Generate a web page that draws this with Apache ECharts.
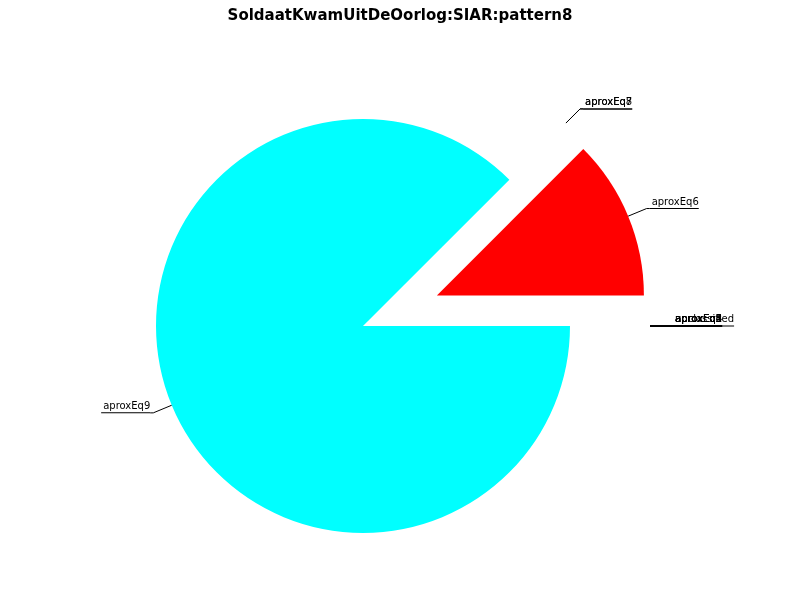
<!DOCTYPE html>
<html>
  <head>
    <meta charset="utf-8" />
    <script src="https://cdn.jsdelivr.net/npm/echarts@6/dist/echarts.min.js"></script>
  </head>
  <body style="margin:0">
    <div id="main" style="width: 800px; height: 600px"></div>

    <script type="text/javascript">
      // slice names, counterclockwise from 3 o'clock
      var names = ["aproxEq1", "aproxEq2", "aproxEq3", "aproxEq4", "aproxEq5", "unclassified",
                   "aproxEq6", "aproxEq7", "aproxEq8", "aproxEq9"];
      var values = [0, 0, 0, 0, 0, 0, 1, 0, 0, 7];
      var exploded = ["aproxEq1", "aproxEq2", "aproxEq3", "aproxEq4", "aproxEq5", "unclassified",
                      "aproxEq6", "aproxEq7", "aproxEq8"];
      var colors = ["#0000ff", "#0000ff", "#0000ff", "#0000ff", "#0000ff", "#0000ff",
                    "#ff0000", "#ff00ff", "#00ff00", "#00ffff"];

      var myChart = echarts.init(document.getElementById("main"));

      var data = names.map(function (n, i) {
        return {
          name: n,
          value: values[i],
          selected: exploded.indexOf(n) >= 0,
          itemStyle: { color: colors[i] }
        };
      });

      var option = {
        animation: false,
        backgroundColor: "#fff",
        title: {
          text: "SoldaatKwamUitDeOorlog:SIAR:pattern8",
          left: "center",
          top: 4,
          textStyle: { fontFamily: "DejaVu Sans", fontSize: 15, fontWeight: "bold", color: "#000" }
        },
        series: [
          {
            type: "pie",
            center: [363, 326],
            radius: 207,
            startAngle: 0,
            clockwise: false,
            selectedMode: "multiple",
            selectedOffset: 80,
            avoidLabelOverlap: false,
            emphasis: { disabled: true },
            itemStyle: { borderWidth: 0 },
            labelLayout: { hideOverlap: false },
            label: {
              show: true,
              distanceToLabelLine: 0,
              // text, then an underline, then a spacer so the underline sits where the leader line ends
              formatter: function (p) { return "{t|" + p.name + "}\n{u|}\n{s|}"; },
              rich: {
                t: { fontFamily: "DejaVu Sans", fontSize: 10, color: "#000", lineHeight: 12, padding: [0, 0, 0, 2] },
                u: { width: "100%", height: 1, lineHeight: 1, backgroundColor: "#000" },
                s: { fontSize: 10, lineHeight: 12 }
              }
            },
            labelLine: {
              show: true,
              length: 20,
              length2: 3,
              smooth: false,
              lineStyle: { color: "#000", width: 1 }
            },
            data: data
          }
        ]
      };

      myChart.setOption(option);
    </script>
  </body>
</html>
